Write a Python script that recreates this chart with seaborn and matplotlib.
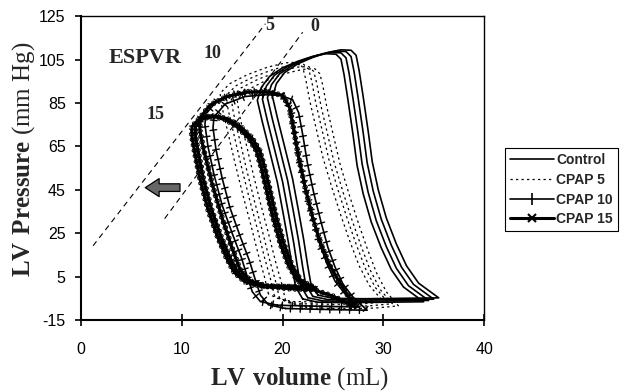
import numpy as np
import pandas as pd
import matplotlib
matplotlib.use("Agg")
import matplotlib.pyplot as plt
import matplotlib.patheffects as pe
from matplotlib.lines import Line2D
import seaborn as sns

# ── loops (volume mL, pressure mm Hg) ─────────────────────────────────────────
control_vol  = [23.5, 22.8, 22.5, 22.1, 21.6, 21.0, 20.2, 19.5, 19.0, 19.4, 20.2, 21.5, 23.0, 24.5, 25.8,
                26.8, 27.3, 27.6, 28.0, 28.5, 28.9, 29.5, 30.3, 31.3, 32.3, 33.5, 35.5, 32.0, 28.0, 25.0, 23.5]
control_pres = [-3.5, 2, 10, 22, 35, 50, 65, 78, 88, 94, 99, 103, 106, 108.3, 109.5,
                109.3, 107, 100, 88, 72, 58, 45, 32, 20, 10, 2, -4.8, -5, -5.2, -5, -3.5]
control_dx = [0.0, -0.5, -1.0, -1.5]
control_dy = [0.0, -0.6, -1.2, -1.8]

cpap5_vol  = [18.6, 18.2, 17.6, 16.9, 16.1, 15.3, 14.6, 14.0, 13.8, 14.8, 16.5, 18.5, 20.3, 21.5, 22.0,
              22.3, 22.7, 23.3, 24.0, 24.9, 25.8, 26.7, 27.6, 28.6, 29.8, 27.5, 24.5, 21.0, 19.5, 18.6]
cpap5_pres = [-3, 5, 15, 28, 42, 57, 71, 83, 89.5, 94, 98, 101.5, 103.5, 103.8, 101.5,
              96, 86, 74, 60, 46, 33, 21, 10, 1, -5.5, -6.5, -6.8, -6.5, -5, -3]
cpap5_dx = [0.0, 0.6, 1.1, 1.7]
cpap5_dy = [0.0, -1.0, -2.0, -3.0]

cpap10_vol  = [19.5, 17.8, 17.0, 16.5, 15.9, 15.0, 14.0, 13.2, 12.6, 12.3, 12.4, 13.5, 15.5, 17.5,
               19.0, 20.2, 20.8, 21.2, 21.7, 22.3, 23.0, 23.7, 24.4, 25.2, 26.2, 27.6, 24.0, 19.5]
cpap10_pres = [-8.2, -6.5, -2, 5, 14, 25, 38, 52, 65, 75, 80, 86, 89.5, 90.3,
               90, 88, 82, 72, 58, 45, 32, 20, 11, 3, -3, -9, -8.7, -8.2]
cpap10_dx = [0.0, 0.8]
cpap10_dy = [0.0, -1.5]

cpap15_big_vol  = [18.5, 16.8, 15.8, 15.0, 14.0, 13.0, 12.2, 11.8, 11.8, 12.8, 14.5, 16.5, 18.5, 20.0,
                   20.7, 21.1, 21.6, 22.3, 23.0, 23.8, 24.7, 25.7, 27.2, 25.0, 23.0, 20.5, 18.5]
cpap15_big_pres = [0.5, 3, 8, 18, 32, 48, 63, 72, 78, 84, 88, 90, 90.2, 88.5,
                   83, 73, 60, 45, 32, 20, 10, 2, -9, -4, -1, -0.5, 0.5]
cpap15_small_vol  = [18.0, 16.3, 15.2, 14.4, 13.5, 12.6, 11.8, 11.3, 11.0, 11.0, 11.8, 13.0, 14.3,
                     15.5, 16.6, 17.4, 17.9, 18.4, 19.0, 19.8, 20.6, 21.5, 23.0, 21.0, 19.0, 18.0]
cpap15_small_pres = [0.5, 2.5, 7, 14, 24, 36, 50, 62, 70, 74, 78, 79, 77.5,
                     74, 69, 63, 55, 45, 33, 20, 10, 3, -0.5, 0.3, 0.5, 0.5]
cpap15_small_dx = [0.0, 0.35]

# ESPVR lines (end points) and their labels
espvr0_vol, espvr0_pres = [8.3, 22.0], [31.7, 117.6]
espvr5_vol, espvr5_pres = [1.2, 18.3], [19.2, 121.5]
espvr_labels = ["ESPVR", "10", "15", "5", "0"]
espvr_label_vol  = [6.35, 13.05, 7.4, 18.75, 23.2]
espvr_label_pres = [105.8, 107.9, 79.7, 120.8, 120.4]

conditions = ["Control", "CPAP 5", "CPAP 10", "CPAP 15"]


def beats(vol, pres, dxs, dys, name):
    parts = []
    for b, (dx, dy) in enumerate(zip(dxs, dys)):
        parts.append(pd.DataFrame({"vol": np.add(vol, dx), "pres": np.add(pres, dy),
                                   "beat": f"{name}-{b}"}))
    return pd.concat(parts, ignore_index=True)


df_ctrl = beats(control_vol, control_pres, control_dx, control_dy, "ctrl")
df_c5 = beats(cpap5_vol, cpap5_pres, cpap5_dx, cpap5_dy, "c5")
df_c10 = beats(cpap10_vol, cpap10_pres, cpap10_dx, cpap10_dy, "c10")
df_c15 = pd.concat([beats(cpap15_big_vol, cpap15_big_pres, [0.0], [0.0], "c15big"),
                    beats(cpap15_small_vol, cpap15_small_pres, cpap15_small_dx, [0.0, 0.0], "c15s")],
                   ignore_index=True)

sns.set_theme(style="ticks")
plt.rcParams.update({
    "font.family": ["Liberation Sans", "DejaVu Sans"],
    "mathtext.fontset": "custom",
    "mathtext.bf": "Liberation Serif:bold",
    "mathtext.rm": "Liberation Serif",
    "axes.unicode_minus": False,
    "axes.edgecolor": "black",
    "xtick.color": "black", "ytick.color": "black",
})

fig = plt.figure(figsize=(6.23, 3.91), dpi=100)
ax = fig.add_axes([0.130, 0.1816, 0.647, 0.777])

plus_fx = [pe.Normal(),
           pe.TickedStroke(spacing=7, angle=90, length=0.35, linewidth=1.0),
           pe.TickedStroke(spacing=7, angle=-90, length=0.35, linewidth=1.0)]
cross_fx = [pe.Normal()] + [pe.TickedStroke(spacing=4, angle=a, length=0.6, linewidth=0.8)
                            for a in (45, 135, -45, -135)]

line_kw = dict(x="vol", y="pres", units="beat", estimator=None, sort=False, color="black", ax=ax, legend=False)
sns.lineplot(data=df_ctrl, lw=1.2, **line_kw)
sns.lineplot(data=df_c5, lw=0.9, linestyle=(0, (1.8, 2.6)), **line_kw)
sns.lineplot(data=df_c10, lw=1.2, path_effects=plus_fx, **line_kw)
sns.lineplot(data=df_c15, lw=2.2, path_effects=cross_fx, **line_kw)

for v, p in [(espvr0_vol, espvr0_pres), (espvr5_vol, espvr5_pres)]:
    sns.lineplot(x=v, y=p, sort=False, color="black", lw=0.8, linestyle=(0, (5, 4)), ax=ax)

for t, v, p in zip(espvr_labels, espvr_label_vol, espvr_label_pres):
    ax.text(v, p, t, ha="center", va="center", family="Liberation Serif", weight="bold",
            fontsize=16 if t == "ESPVR" else 13)

# grey arrow pointing toward smaller volumes
ax.annotate("", xy=(6.1, 46), xytext=(10.1, 46),
            arrowprops=dict(arrowstyle="simple,head_length=1.0,head_width=1.3,tail_width=0.55",
                            mutation_scale=10, fc="0.4", ec="black", lw=0.9))

ax.set_xlim(0, 40)
ax.set_ylim(-15, 125)
ax.set_xticks(range(0, 41, 10))
ax.set_yticks(range(-15, 126, 20))
ax.tick_params(axis="x", direction="inout", length=8, width=1.2, pad=12, labelsize=11.5)
ax.tick_params(axis="y", direction="out", length=4, width=1.2, pad=7, labelsize=11.5)
for side in ["left", "bottom"]:
    ax.spines[side].set_linewidth(1.5)
for side in ["top", "right"]:
    ax.spines[side].set_linewidth(1.0)

ax.set_xlabel(r"$\mathbf{LV\ volume}$ (mL)", family="Liberation Serif", fontsize=18)
ax.set_ylabel(r"$\mathbf{LV\ Pressure}$ (mm Hg)", family="Liberation Serif", fontsize=18)
ax.xaxis.set_label_coords(0.543, -0.148)
ax.yaxis.set_label_coords(-0.109, 0.53)

handles = [Line2D([], [], color="black", lw=1.2),
           Line2D([], [], color="black", lw=0.9, linestyle=(0, (1.8, 2.6))),
           Line2D([], [], color="black", lw=1.2, marker="|", ms=8, mew=1.2),
           Line2D([], [], color="black", lw=2.2, marker="x", ms=6, mew=1.5)]
leg = fig.legend(handles, conditions, loc="upper left", bbox_to_anchor=(0.8106, 0.6215),
                 frameon=True, fancybox=False, edgecolor="black", framealpha=1,
                 prop={"weight": "bold", "size": 10, "family": "Liberation Sans"},
                 handlelength=3.2, handletextpad=0.15, borderaxespad=0, labelspacing=0.42,
                 borderpad=0.35)
leg.get_frame().set_linewidth(0.8)

fig.savefig("out.png", dpi=100)
